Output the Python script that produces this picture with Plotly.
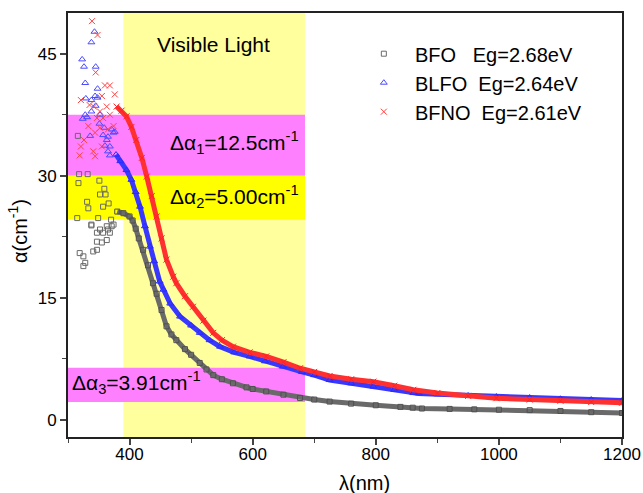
import plotly.graph_objects as go

# ---------------- data ----------------
# BFO (grey squares)
bfo_noise_x = [316, 317, 318, 332, 331, 333, 315, 351, 352, 359, 361, 357, 366, 370, 374, 338, 352, 365, 363, 347,
               319, 325, 328, 325, 341, 347, 355, 368, 347, 357, 338, 363, 371, 349]
bfo_noise_y = [34.9, 29.1, 30.2, 30.2, 26.8, 26.0, 24.8, 29.4, 27.7, 28.4, 27.7, 26.2, 26.6, 24.6, 24.0, 23.9, 23.4,
               23.4, 22.1, 21.9, 20.5, 20.1, 19.3, 18.9, 20.7, 20.9, 21.8, 23.0, 23.0, 23.0, 24.0, 23.8, 23.8, 24.8]
bfo_x = [380, 390, 400, 405, 410, 415, 422, 430, 438, 444, 452, 460, 468, 476, 490, 500, 514, 525, 536, 550, 568,
         590, 600, 622, 650, 677, 700, 725, 760, 800, 840, 860, 875, 920, 960, 1000, 1050, 1100, 1150, 1200]
bfo_y = [25.6, 25.4, 25.0, 24.5, 23.5, 22.3, 20.9, 19.0, 16.8, 15.5, 13.5, 11.5, 10.5, 9.8, 8.7, 8.0, 7.0, 6.2, 5.5,
         5.0, 4.5, 4.0, 3.8, 3.5, 3.1, 2.7, 2.5, 2.25, 2.0, 1.8, 1.6, 1.5, 1.4, 1.35, 1.3, 1.25, 1.2, 1.1, 0.95, 0.85]

# BLFO (blue triangles)
blfo_noise_x = [343, 338, 323, 326, 345, 328, 348, 329, 344, 348, 338, 345, 338, 328, 331, 324, 352, 351, 359, 371,
                336, 357, 365, 363, 360, 368, 365, 368, 374, 376]
blfo_noise_y = [47.7, 46.4, 44.3, 43.4, 43.4, 41.4, 40.7, 39.5, 39.8, 39.6, 39.3, 38.6, 37.9, 37.5, 37.2, 37.0, 37.5,
                36.4, 35.9, 35.7, 34.9, 35.0, 34.8, 34.4, 33.7, 33.6, 33.0, 32.5, 35.3, 35.4]
blfo_x = [378, 385, 395, 403, 410, 417, 425, 433, 440, 449, 455, 466, 482, 500, 514, 530, 547, 570, 595, 620,
          649, 680, 700, 725, 760, 796, 830, 861, 870, 900, 950, 996, 1050, 1100, 1150, 1200]
blfo_y = [32.6, 31.8, 30.7, 29.5, 28.0, 26.2, 23.8, 21.3, 19.5, 17.0, 16.0, 14.3, 12.7, 11.6, 10.7, 9.8, 9.0,
          8.3, 7.8, 7.2, 6.55, 5.9, 5.5, 4.9, 4.5, 4.1, 3.7, 3.3, 3.25, 3.15, 3.0, 2.87, 2.75, 2.6, 2.5, 2.37]

# BFNO (red crosses)
bfno_noise_x = [339, 348, 345, 360, 368, 321, 335, 355, 342, 363, 352, 368, 347, 357, 333, 352, 344, 326, 321, 355,
                341, 344, 319, 365, 374, 376]
bfno_noise_y = [49.0, 47.3, 42.7, 41.1, 41.1, 39.3, 38.7, 39.8, 38.5, 38.5, 37.9, 37.5, 37.1, 37.1, 36.1, 35.9, 35.3,
                34.4, 33.6, 33.6, 33.0, 32.4, 32.5, 35.7, 36.1, 40.0]
bfno_x = [379, 387, 395, 403, 411, 420, 428, 436, 444, 452, 460, 471, 476, 490, 503, 520, 536, 550, 568, 595,
          622, 650, 677, 700, 725, 760, 796, 830, 861, 900, 950, 996, 1050, 1100, 1150, 1200]
bfno_y = [38.5, 38.0, 37.3, 36.0, 34.4, 32.2, 29.9, 27.5, 25.0, 22.3, 19.7, 17.6, 16.8, 15.2, 13.9, 12.2, 10.7,
          9.8, 9.0, 8.3, 7.8, 7.1, 6.35, 5.9, 5.4, 5.0, 4.7, 4.2, 3.7, 3.3, 2.95, 2.67, 2.5, 2.35, 2.2, 2.1]

names = ["\u00a0\u00a0BFO\u00a0\u00a0\u00a0Eg=2.68eV", "\u00a0\u00a0BLFO\u00a0\u00a0Eg=2.64eV",
         "\u00a0\u00a0BFNO\u00a0\u00a0Eg=2.61eV"]

# shaded regions (wavelength / alpha limits)
visible_range = [390, 685]
band1 = [30.0, 37.5]
band2 = [24.6, 30.0]
band3 = [2.2, 6.4]

FONT = "Liberation Sans, Arial, sans-serif"

fig = go.Figure()

series = [
    (bfo_noise_x, bfo_noise_y, bfo_x, bfo_y, "square-open", "#505050", "#6a6a6a", 5),
    (blfo_noise_x, blfo_noise_y, blfo_x, blfo_y, "triangle-up-open", "#2a2aff", "#4a4aff", 6),
    (bfno_noise_x, bfno_noise_y, bfno_x, bfno_y, "x-thin-open", "#ff2020", "#ff4040", 6),
]
line_cols = ["#6a6a6a", "#3838ff", "#ff3030"]
for i, (nx, ny, sx, sy, sym, col, ncol, ms) in enumerate(series):
    fig.add_trace(go.Scatter(
        x=sx, y=sy, mode="lines+markers", showlegend=False,
        line=dict(color=line_cols[i], width=5),
        marker=dict(symbol=sym, size=ms, color=col, line=dict(color=col, width=1)),
    ))
    fig.add_trace(go.Scatter(
        x=nx, y=ny, mode="markers", name=names[i],
        marker=dict(symbol=sym, size=ms, color=ncol, line=dict(color=ncol, width=1)),
    ))

shapes = [
    dict(type="rect", xref="x", yref="paper", x0=visible_range[0], x1=visible_range[1], y0=0, y1=1,
         fillcolor="#ffff9e", line=dict(width=0), layer="below"),
]
for b, c in [(band1, "#ff80ff"), (band2, "#ffff00"), (band3, "#ff80ff")]:
    shapes.append(dict(type="rect", xref="x", yref="y", x0=300, x1=visible_range[1], y0=b[0], y1=b[1],
                       fillcolor=c, line=dict(width=0), layer="below"))
fig.update_layout(shapes=shapes)

annotations = [
    dict(x=537, y=46.1, xref="x", yref="y", text="Visible Light", showarrow=False,
         font=dict(size=21, color="black", family=FONT)),
    dict(x=679, y=34.1, xref="x", yref="y", text="Δα<sub>1</sub>=12.5cm<sup>-1</sup>", showarrow=False,
         xanchor="right", font=dict(size=21, color="black", family=FONT)),
    dict(x=679, y=27.5, xref="x", yref="y", text="Δα<sub>2</sub>=5.00cm<sup>-1</sup>", showarrow=False,
         xanchor="right", font=dict(size=21, color="black", family=FONT)),
    dict(x=304, y=4.6, xref="x", yref="y", text="Δα<sub>3</sub>=3.91cm<sup>-1</sup>", showarrow=False,
         xanchor="left", font=dict(size=21, color="black", family=FONT)),
    dict(x=0.536, y=-0.108, xref="paper", yref="paper", text="λ(nm)", showarrow=False,
         yanchor="middle", font=dict(size=20, color="black", family=FONT)),
    dict(x=-0.09, y=0.486, xref="paper", yref="paper", text="α(cm<sup>-1</sup>)", showarrow=False,
         textangle=-90, xanchor="center", yanchor="middle", font=dict(size=20, color="black", family=FONT)),
]
fig.update_layout(annotations=annotations)

fig.update_layout(
    width=643, height=493,
    margin=dict(l=68, r=21, t=13, b=56, autoexpand=False),
    paper_bgcolor="white", plot_bgcolor="white",
    font=dict(family=FONT, size=16, color="black"),
    legend=dict(x=0.534, y=0.95, xanchor="left", yanchor="top", bgcolor="rgba(0,0,0,0)",
                font=dict(size=20, family=FONT), itemsizing="trace", tracegroupgap=4),
    xaxis=dict(range=[300, 1200], tick0=400, dtick=200, ticks="outside", ticklen=6, tickwidth=1.5,
               showline=True, linecolor="#222", linewidth=1.8, mirror=True, showgrid=False, zeroline=False,
               ticklabelstandoff=-5, automargin=False,
               tickfont=dict(size=17), minor=dict(dtick=100, ticks="outside", ticklen=4, tickwidth=1.2)),
    yaxis=dict(range=[-2.1, 50], tick0=0, dtick=15, ticks="outside", ticklen=6, tickwidth=1.5,
               showline=True, linecolor="#222", linewidth=1.8, mirror=True, showgrid=False, zeroline=False,
               automargin=False,
               tickfont=dict(size=17), minor=dict(dtick=7.5, ticks="outside", ticklen=4, tickwidth=1.2)),
)

fig.write_html("out.html")
